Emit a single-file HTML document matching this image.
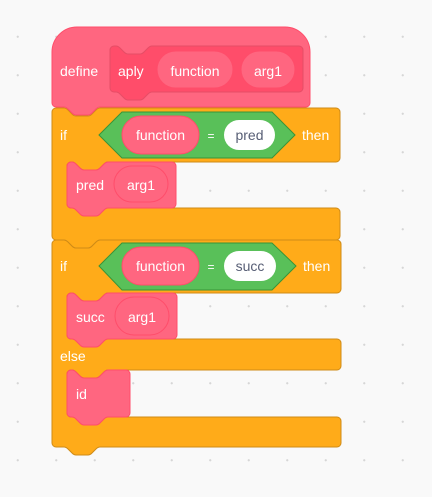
<!DOCTYPE html>
<html><head><style>
html,body{margin:0;padding:0}
body{width:432px;height:497px;background-color:#F9F9F9;background-image:radial-gradient(circle,#d6d6d6 0.9px,transparent 1.3px);background-size:38.5px 38.5px;background-position:-1.5px 17.5px;overflow:hidden}
svg{position:absolute;left:0;top:0}
text{font-family:"Liberation Sans",sans-serif;font-size:14px;fill:#fff;dominant-baseline:central}
.c{text-anchor:middle}
.d{fill:#575E75}
</style></head><body>
<svg width="432" height="497" viewBox="0 0 432 497">
<path fill="#FFAB19" stroke="#CF8B17" stroke-width="1" d="M52,244 a4 4 0 0 1 4,-4 H64 c2,0 3,1 4,2 l4,4 c1,1 2,2 4,2 h12 c2,0 3,-1 4,-2 l4,-4 c1,-1 2,-2 4,-2 H337 a4 4 0 0 1 4,4 V289 a4 4 0 0 1 -4,4 H108 c-2,0 -3,1 -4,2 l-4,4 c-1,1 -2,2 -4,2 h-12 c-2,0 -3,-1 -4,-2 l-4,-4 c-1,-1 -2,-2 -4,-2 H71 a4 4 0 0 0 -4,4 V335 a4 4 0 0 0 4,4 H337 a4 4 0 0 1 4,4 V366 a4 4 0 0 1 -4,4 H108 c-2,0 -3,1 -4,2 l-4,4 c-1,1 -2,2 -4,2 h-12 c-2,0 -3,-1 -4,-2 l-4,-4 c-1,-1 -2,-2 -4,-2 H71 a4 4 0 0 0 -4,4 V413 a4 4 0 0 0 4,4 H337 a4 4 0 0 1 4,4 V443 a4 4 0 0 1 -4,4 H100 c-2,0 -3,1 -4,2 l-4,4 c-1,1 -2,2 -4,2 h-12 c-2,0 -3,-1 -4,-2 l-4,-4 c-1,-1 -2,-2 -4,-2 H56 a4 4 0 0 1 -4,-4 Z"/>
<path fill="#FFAB19" stroke="#CF8B17" stroke-width="1" d="M52,112 a4 4 0 0 1 4,-4 H64 c2,0 3,1 4,2 l4,4 c1,1 2,2 4,2 h12 c2,0 3,-1 4,-2 l4,-4 c1,-1 2,-2 4,-2 H336 a4 4 0 0 1 4,4 V158 a4 4 0 0 1 -4,4 H108 c-2,0 -3,1 -4,2 l-4,4 c-1,1 -2,2 -4,2 h-12 c-2,0 -3,-1 -4,-2 l-4,-4 c-1,-1 -2,-2 -4,-2 H71 a4 4 0 0 0 -4,4 V204 a4 4 0 0 0 4,4 H336 a4 4 0 0 1 4,4 V236 a4 4 0 0 1 -4,4 H100 c-2,0 -3,1 -4,2 l-4,4 c-1,1 -2,2 -4,2 h-12 c-2,0 -3,-1 -4,-2 l-4,-4 c-1,-1 -2,-2 -4,-2 H56 a4 4 0 0 1 -4,-4 Z"/>
<path fill="#FF6680" stroke="#FF4D6A" stroke-width="1" d="M52,52 a25 25 0 0 1 25,-25 H285 a25 25 0 0 1 25,25 V103 a4 4 0 0 1 -4,4 H100 c-2,0 -3,1 -4,2 l-4,4 c-1,1 -2,2 -4,2 h-12 c-2,0 -3,-1 -4,-2 l-4,-4 c-1,-1 -2,-2 -4,-2 H56 a4 4 0 0 1 -4,-4 Z"/>
<path fill="#FF4D6A" stroke="#E64D66" stroke-width="1" d="M110,50 a4 4 0 0 1 4,-4 H116 c2,0 3,1 4,2 l4,4 c1,1 2,2 4,2 h12 c2,0 3,-1 4,-2 l4,-4 c1,-1 2,-2 4,-2 H299 a4 4 0 0 1 4,4 V88 a4 4 0 0 1 -4,4 H152 c-2,0 -3,1 -4,2 l-4,4 c-1,1 -2,2 -4,2 h-12 c-2,0 -3,-1 -4,-2 l-4,-4 c-1,-1 -2,-2 -4,-2 H114 a4 4 0 0 1 -4,-4 Z"/>
<rect x="157" y="51" width="76" height="37" rx="18.5" fill="#FF6680" stroke="#FF4D6A"/>
<rect x="241" y="51" width="54" height="37" rx="18.5" fill="#FF6680" stroke="#FF4D6A"/>
<text x="60" y="71">define</text>
<text x="118" y="71">aply</text>
<text class="c" x="195" y="71">function</text>
<text class="c" x="268" y="71">arg1</text>
<text x="60" y="135">if</text>
<path fill="#59C059" stroke="#389438" d="M99,135 L122,112 H272 L295,135 L272,158 H122 Z"/>
<rect x="122" y="116" width="77" height="38" rx="19" fill="#FF6680" stroke="#FF4D6A"/>
<text class="c" x="160.5" y="135">function</text>
<text class="c" x="211" y="136" style="font-size:12px">=</text>
<rect x="224" y="120" width="51" height="30" rx="15" fill="#fff"/>
<text class="d c" x="249.5" y="135">pred</text>
<text x="302" y="135">then</text>
<path fill="#FF6680" stroke="#FF4D6A" d="M67,166 a4 4 0 0 1 4,-4 H72 c2,0 3,1 4,2 l4,4 c1,1 2,2 4,2 h12 c2,0 3,-1 4,-2 l4,-4 c1,-1 2,-2 4,-2 H172 a4 4 0 0 1 4,4 V204 a4 4 0 0 1 -4,4 H108 c-2,0 -3,1 -4,2 l-4,4 c-1,1 -2,2 -4,2 h-12 c-2,0 -3,-1 -4,-2 l-4,-4 c-1,-1 -2,-2 -4,-2 H71 a4 4 0 0 1 -4,-4 Z"/>
<rect x="114" y="166" width="54" height="36" rx="18" fill="#FF6680" stroke="#FF4D6A"/>
<text x="76" y="185">pred</text>
<text class="c" x="141" y="185">arg1</text>
<text x="60" y="266">if</text>
<path fill="#59C059" stroke="#389438" d="M99,266 L122,243 H272 L296,266 L272,290 H122 Z"/>
<rect x="122" y="247" width="77" height="38" rx="19" fill="#FF6680" stroke="#FF4D6A"/>
<text class="c" x="160.5" y="266">function</text>
<text class="c" x="211" y="267" style="font-size:12px">=</text>
<rect x="224" y="251" width="52" height="30" rx="15" fill="#fff"/>
<text class="d c" x="250" y="266">succ</text>
<text x="303" y="266">then</text>
<path fill="#FF6680" stroke="#FF4D6A" d="M67,297 a4 4 0 0 1 4,-4 H72 c2,0 3,1 4,2 l4,4 c1,1 2,2 4,2 h12 c2,0 3,-1 4,-2 l4,-4 c1,-1 2,-2 4,-2 H173 a4 4 0 0 1 4,4 V335 a4 4 0 0 1 -4,4 H108 c-2,0 -3,1 -4,2 l-4,4 c-1,1 -2,2 -4,2 h-12 c-2,0 -3,-1 -4,-2 l-4,-4 c-1,-1 -2,-2 -4,-2 H71 a4 4 0 0 1 -4,-4 Z"/>
<rect x="115" y="297" width="54" height="38" rx="19" fill="#FF6680" stroke="#FF4D6A"/>
<text x="76" y="317">succ</text>
<text class="c" x="142" y="317">arg1</text>
<text x="60" y="356">else</text>
<path fill="#FF6680" stroke="#FF4D6A" d="M67,374 a4 4 0 0 1 4,-4 H72 c2,0 3,1 4,2 l4,4 c1,1 2,2 4,2 h12 c2,0 3,-1 4,-2 l4,-4 c1,-1 2,-2 4,-2 H126 a4 4 0 0 1 4,4 V413 a4 4 0 0 1 -4,4 H108 c-2,0 -3,1 -4,2 l-4,4 c-1,1 -2,2 -4,2 h-12 c-2,0 -3,-1 -4,-2 l-4,-4 c-1,-1 -2,-2 -4,-2 H71 a4 4 0 0 1 -4,-4 Z"/>
<text x="76" y="394">id</text>
</svg>
</body></html>
